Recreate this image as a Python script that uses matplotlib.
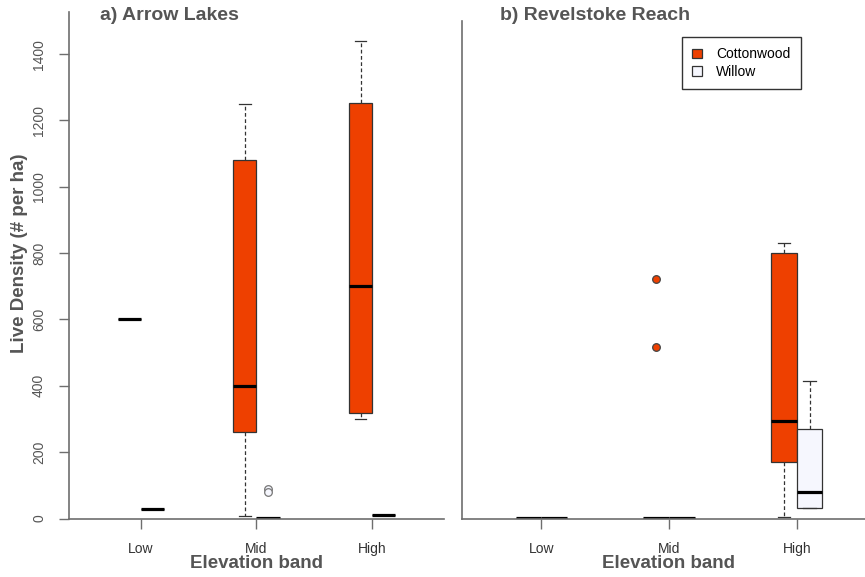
import matplotlib
matplotlib.use('Agg')
import matplotlib.pyplot as plt
from matplotlib.patches import Patch

plt.rcParams['font.family'] = ['Liberation Sans', 'DejaVu Sans']

bands = ['Low', 'Mid', 'High']

# box summaries per elevation band: lower whisker, Q1, median, Q3, upper whisker
arrow_cw_lo = [600, 8, 300]
arrow_cw_q1 = [600, 261, 317]
arrow_cw_med = [600, 400, 702]
arrow_cw_q3 = [600, 1081, 1254]
arrow_cw_hi = [600, 1250, 1440]
arrow_cw_out = [[], [], []]

arrow_wi_lo = [30, 2, 10]
arrow_wi_q1 = [30, 2, 10]
arrow_wi_med = [30, 2, 10]
arrow_wi_q3 = [30, 2, 10]
arrow_wi_hi = [30, 2, 10]
arrow_wi_out = [[], [88, 79], []]

revel_cw_lo = [2, 2, 5]
revel_cw_q1 = [2, 2, 171]
revel_cw_med = [2, 2, 294]
revel_cw_q3 = [2, 2, 799]
revel_cw_hi = [2, 2, 831]
revel_cw_out = [[], [722, 518], []]

revel_wi_lo = [2, 2, 33]
revel_wi_q1 = [2, 2, 33]
revel_wi_med = [2, 2, 80]
revel_wi_q3 = [2, 2, 271]
revel_wi_hi = [2, 2, 415]
revel_wi_out = [[], [], []]

yticks = [0, 200, 400, 600, 800, 1000, 1200, 1400]

cw_col = '#EE4000'
wi_col = '#F6F7FE'
axis_col = '#6e6e6e'
text_col = '#555555'


def make_stats(lo, q1, med, q3, hi, out):
    return [dict(whislo=a, q1=b, med=c, q3=d, whishi=e, fliers=f)
            for a, b, c, d, e, f in zip(lo, q1, med, q3, hi, out)]


def draw_boxes(ax, stats, pos, face):
    art = ax.bxp(stats, positions=pos, widths=0.2, patch_artist=True,
                 manage_ticks=False,
                 boxprops=dict(facecolor=face, edgecolor='#333333', linewidth=0.9),
                 whiskerprops=dict(color='#333333', linewidth=0.9, linestyle=(0, (3, 2))),
                 capprops=dict(color='#333333', linewidth=0.9),
                 medianprops=dict(color='black', linewidth=2.3),
                 flierprops=dict(marker='o', markersize=5.5, markerfacecolor=face,
                                 markeredgecolor='#444444' if face == cw_col else '#777777',
                                 markeredgewidth=0.9))
    return art


def style_axes(ax, show_y):
    ax.set_xlim(0.38, 3.62)
    for s in ['top', 'right']:
        ax.spines[s].set_visible(False)
    for s in ['left', 'bottom']:
        ax.spines[s].set_color(axis_col)
        ax.spines[s].set_linewidth(1.2)
    ax.set_xticks([1, 2, 3])
    ax.set_xticklabels(bands)
    ax.tick_params(axis='x', length=7, width=1, color=axis_col, pad=10,
                   labelsize=10, labelcolor='#333333')
    if show_y:
        ax.set_yticks(yticks)
        ax.tick_params(axis='y', length=7.5, width=1, color=axis_col, pad=9,
                       labelsize=10, labelcolor=text_col, labelrotation=90)
        for lab in ax.get_yticklabels():
            lab.set_va('center')
    else:
        ax.set_yticks([])


W, H = 865, 577
fig = plt.figure(figsize=(W / 100, H / 100), dpi=100)

ax1 = fig.add_axes([69 / W, (H - 518.5) / H, 375 / W, 506.5 / H])
ax2 = fig.add_axes([462 / W, (H - 518.5) / H, 414 / W, 497.5 / H])

x = [1, 2, 3]
left_pos = [v - 0.1 for v in x]
right_pos = [v + 0.1 for v in x]

draw_boxes(ax1, make_stats(arrow_cw_lo, arrow_cw_q1, arrow_cw_med, arrow_cw_q3,
                           arrow_cw_hi, arrow_cw_out), left_pos, cw_col)
draw_boxes(ax1, make_stats(arrow_wi_lo, arrow_wi_q1, arrow_wi_med, arrow_wi_q3,
                           arrow_wi_hi, arrow_wi_out), right_pos, wi_col)
draw_boxes(ax2, make_stats(revel_cw_lo, revel_cw_q1, revel_cw_med, revel_cw_q3,
                           revel_cw_hi, revel_cw_out), left_pos, cw_col)
draw_boxes(ax2, make_stats(revel_wi_lo, revel_wi_q1, revel_wi_med, revel_wi_q3,
                           revel_wi_hi, revel_wi_out), right_pos, wi_col)

ax1.set_ylim(0, 1527)
ax2.set_ylim(0, 1500)
style_axes(ax1, True)
style_axes(ax2, False)

fig.text(100 / W, 1 - 15 / H, 'a) Arrow Lakes', fontsize=14, fontweight='bold',
         color=text_col, ha='left', va='center')
fig.text(500 / W, 1 - 15 / H, 'b) Revelstoke Reach', fontsize=14, fontweight='bold',
         color=text_col, ha='left', va='center')
fig.text(256 / W, 1 - 563 / H, 'Elevation band', fontsize=13.5, fontweight='bold',
         color=text_col, ha='center', va='center')
fig.text(669 / W, 1 - 563 / H, 'Elevation band', fontsize=13.5, fontweight='bold',
         color=text_col, ha='center', va='center')
fig.text(20 / W, 1 - 253 / H, 'Live Density (# per ha)', fontsize=13.5,
         fontweight='bold', color=text_col, ha='center', va='center', rotation=90)

handles = [Patch(facecolor=cw_col, edgecolor='#333333', linewidth=0.9, label='Cottonwood'),
           Patch(facecolor=wi_col, edgecolor='#333333', linewidth=0.9, label='Willow')]
leg = fig.legend(handles=handles, loc='upper left',
                 bbox_to_anchor=(682 / W, 1 - 37 / H), fontsize=10,
                 handlelength=0.7, handleheight=0.7, handletextpad=1.0,
                 labelspacing=0.25, borderpad=0.75, borderaxespad=0,
                 fancybox=False, framealpha=1)
leg.get_frame().set_edgecolor('#333333')
leg.get_frame().set_linewidth(1.0)

fig.savefig('out.png', dpi=100)
